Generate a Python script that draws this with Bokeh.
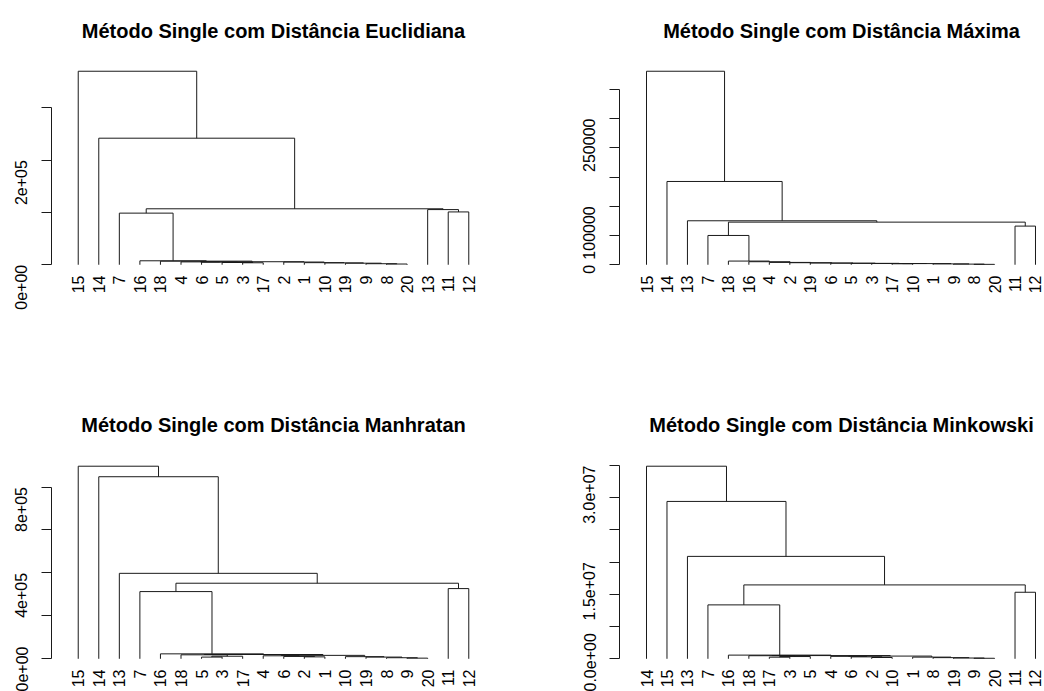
import math
from bokeh.plotting import figure
from bokeh.models import Range1d, FixedTicker, Label
from bokeh.layouts import column, row
from bokeh.embed import file_html
from bokeh.resources import INLINE

# ---------------- data ----------------
# leaf order (as drawn) and merge height between consecutive leaves (cophenetic)
titles = [
    "Método Single com Distância Euclidiana",
    "Método Single com Distância Máxima",
    "Método Single com Distância Manhratan",
    "Método Single com Distância Minkowski",
]

leaves_euclid = ["15", "14", "7", "16", "18", "4", "6", "5", "3", "17", "2", "1", "10", "19", "9", "8", "20", "13", "11", "12"]
gaps_euclid = [370000, 242000, 98700, 7600, 6900, 5500, 5000, 4300, 3800, 5800, 5200, 4000, 3600, 3000, 2000, 1400,
               107000, 105500, 101000]
ticks_euclid = [0, 100000, 200000, 300000]
ticklab_euclid = ["0e+00", "", "2e+05", ""]

leaves_max = ["15", "14", "13", "7", "18", "16", "4", "2", "19", "6", "5", "3", "17", "10", "1", "9", "8", "20", "11", "12"]
gaps_max = [330900, 142400, 75200, 50100, 6300, 5200, 4000, 3500, 3000, 2700, 2400, 2100, 1700, 2000, 1500, 1100, 700,
            72900, 66100]
ticks_max = [0, 50000, 100000, 150000, 200000, 250000, 300000]
ticklab_max = ["0", "", "100000", "", "", "250000", ""]

leaves_manh = ["15", "14", "13", "7", "16", "18", "5", "3", "17", "4", "6", "2", "1", "10", "19", "8", "9", "20", "11", "12"]
gaps_manh = [897000, 848000, 398000, 313000, 23000, 18500, 8000, 12000, 20000, 14000, 11000, 9000, 16000, 10000, 8000,
             5000, 3000, 352000, 327000]
ticks_manh = [0, 200000, 400000, 600000, 800000]
ticklab_manh = ["0e+00", "", "4e+05", "", "8e+05"]

leaves_mink = ["14", "15", "13", "7", "16", "18", "17", "3", "5", "4", "6", "2", "10", "1", "8", "19", "9", "20", "11", "12"]
gaps_mink = [29.9e6, 24.43e6, 15.9e6, 8.37e6, 570000, 480000, 250000, 350000, 500000, 380000, 300000, 200000, 420000,
             260000, 180000, 120000, 80000, 11.47e6, 10.33e6]
ticks_mink = [0, 5e6, 10e6, 15e6, 20e6, 25e6, 30e6]
ticklab_mink = ["0.0e+00", "", "", "1.5e+07", "", "", "3.0e+07"]

FONT = "Liberation Sans"
LINE = "#1a1a1a"


def dendro_segments(gaps):
    x0, y0, x1, y1 = [], [], [], []

    def build(lo, hi):
        if lo == hi:
            return lo + 1.0, 0.0
        k = max(range(lo, hi), key=lambda i: gaps[i])
        h = gaps[k]
        xl, hl = build(lo, k)
        xr, hr = build(k + 1, hi)
        x0.extend([xl, xr, xl]); y0.extend([hl, hr, h])
        x1.extend([xl, xr, xr]); y1.extend([h, h, h])
        return (xl + xr) / 2.0, h

    build(0, len(gaps))
    return x0, y0, x1, y1


def make_panel(title, leaves, gaps, ticks, ticklabs, width, height, left, right, region_top, region_bottom, xr,
               title_dx, title_dy):
    # R-style plot region spans [-4%, 104%] of the tallest merge between region_top and region_bottom (px);
    # the Bokeh frame is extended up to the canvas top so that the title can live inside it.
    top_h = max(gaps)
    lo, hi = -0.04 * top_h, 1.04 * top_h
    per_px = (hi - lo) / (region_bottom - region_top)
    y_end = hi + region_top * per_px
    p = figure(width=width, height=height, output_backend="svg", toolbar_location=None, title=None,
               x_range=Range1d(*xr), y_range=Range1d(lo, y_end),
               min_border_left=left, min_border_right=right, min_border_top=0,
               min_border_bottom=height - region_bottom)
    p.outline_line_color = None
    p.grid.visible = False
    p.background_fill_color = "white"
    p.border_fill_color = "white"

    x0, y0, x1, y1 = dendro_segments(gaps)
    p.segment(x0=x0, y0=y0, x1=x1, y1=y1, line_color=LINE, line_width=1)

    xa = p.xaxis[0]
    xa.ticker = FixedTicker(ticks=list(range(1, len(leaves) + 1)))
    xa.major_label_overrides = {i + 1: lab for i, lab in enumerate(leaves)}
    xa.axis_line_color = None
    xa.major_tick_line_color = None
    xa.minor_tick_line_color = None
    xa.major_tick_out = 0
    xa.major_tick_in = 0
    xa.minor_tick_out = 0
    xa.minor_tick_in = 0
    xa.major_label_orientation = math.pi / 2
    xa.major_label_standoff = 3
    xa.major_label_text_font = FONT
    xa.major_label_text_font_size = "16px"
    xa.major_label_text_color = "black"

    ya = p.yaxis[0]
    ya.ticker = FixedTicker(ticks=ticks)
    ya.major_label_overrides = {t: l for t, l in zip(ticks, ticklabs)}
    ya.bounds = (ticks[0], ticks[-1])
    ya.axis_line_color = LINE
    ya.major_tick_line_color = LINE
    ya.minor_tick_line_color = None
    ya.minor_tick_out = 0
    ya.major_tick_out = 10
    ya.major_tick_in = 0
    ya.major_label_orientation = math.pi / 2
    ya.major_label_standoff = 20
    ya.major_label_text_font = FONT
    ya.major_label_text_font_size = "16px"
    ya.major_label_text_color = "black"

    p.add_layout(Label(x=title_dx, y=region_bottom - title_dy, x_units="screen", y_units="screen", text=title,
                       text_align="center", text_baseline="alphabetic", text_font=FONT,
                       text_font_style="bold", text_font_size="20px", text_color="black"))
    return p


p1 = make_panel(titles[0], leaves_euclid, gaps_euclid, ticks_euclid, ticklab_euclid,
                522, 340, 51, 27, 63, 272, (-0.3, 21.3), 222, 30)
p2 = make_panel(titles[1], leaves_max, gaps_max, ticks_max, ticklab_max,
                522, 340, 97, 0, 63, 272, (-0.319, 20.44), 222, 30)
p3 = make_panel(titles[2], leaves_manh, gaps_manh, ticks_manh, ticklab_manh,
                522, 351, 51, 27, 118, 326, (-0.3, 21.3), 222, 84)
p4 = make_panel(titles[3], leaves_mink, gaps_mink, ticks_mink, ticklab_mink,
                522, 351, 97, 0, 118, 326, (-0.319, 20.44), 222, 84)

layout = column(row(p1, p2), row(p3, p4))

open("out.html", "w").write(file_html(layout, INLINE))
